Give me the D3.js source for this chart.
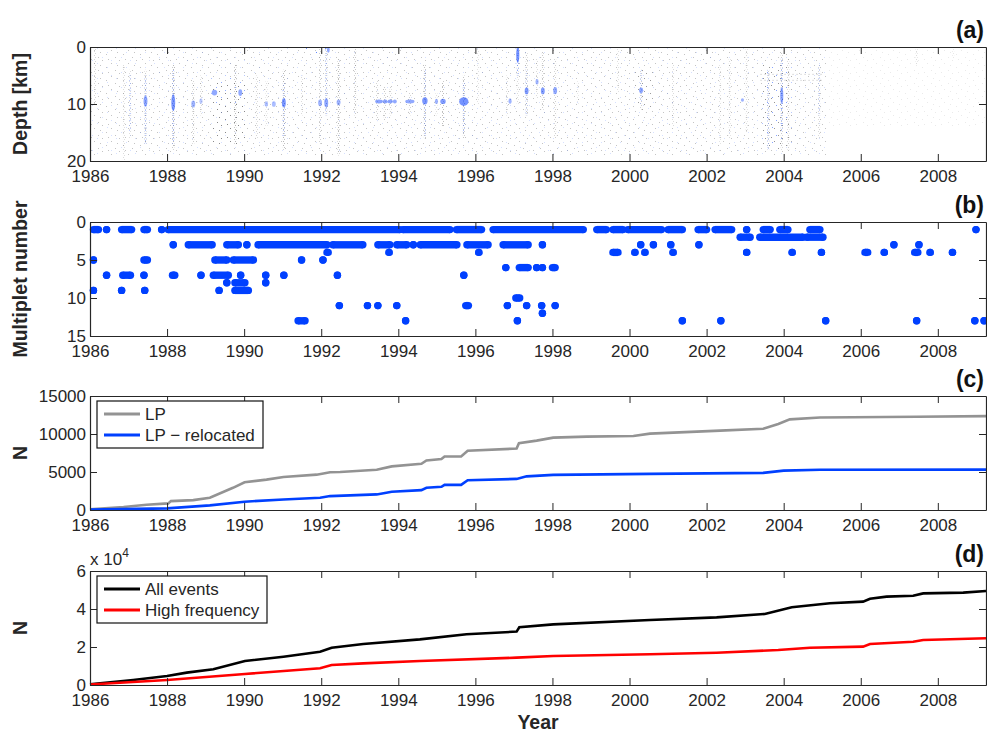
<!DOCTYPE html>
<html>
<head>
<meta charset="utf-8">
<script src="https://cdn.jsdelivr.net/npm/d3@7"></script>
<style>
  body { margin: 0; background: #fff; }
  svg { display: block; font-family: 'Liberation Sans', Arial, Helvetica, sans-serif; }
</style>
</head>
<body>
<div class="chart"></div>
<script>
// tick labels
const xTicks = [1986, 1988, 1990, 1992, 1994, 1996, 1998, 2000, 2002, 2004, 2006, 2008]
const depthTicks = [0, 10, 20]
const multTicks = [0, 5, 10, 15]
const lpTicks = [0, 5000, 10000, 15000]
const allTicks = [0, 20000, 40000, 60000]

// (a) depth of events, read as clouds / streaks / blobs
// [year from, year to, depth top, depth bottom, density]
const hazeGray = [[1986, 2005.1, 0, 19, 0.55], [2005.1, 2009.25, 0, 14, 0.2], [1989.15, 1990.05, 6, 17, 1],
  [2000.15, 2000.6, 4, 11, 0.7], [2003.45, 2004.2, 3, 18, 0.8]]
const hazeBlue = [[1986, 2005.1, 0, 19, 0.25], [1991.5, 1992.25, 0.2, 1.3, 0.9], [1989.15, 1990.05, 5, 10, 0.5],
  [2003.45, 2004.2, 3, 17, 0.6]]
// [year, depth top, depth bottom, alpha]
const streaksGray = [[1986.13, 0, 10, 0.35], [1986.88, 3, 20, 0.3], [1987.04, 4, 16, 0.3], [1987.44, 4, 17, 0.4],
  [1988.16, 3, 18, 0.6], [1988.68, 6, 17, 0.45], [1988.88, 5, 12, 0.3], [1989.77, 3, 17, 0.6], [1990.33, 5, 16, 0.35],
  [1990.58, 6, 14, 0.3], [1991.03, 4, 18, 0.6], [1991.5, 5, 12, 0.3], [1991.97, 0, 17, 0.4], [1992.13, 0, 12, 0.4],
  [1992.45, 2, 19, 0.6], [1992.88, 0, 12, 0.45], [1993.45, 6, 13, 0.4], [1993.65, 7, 13, 0.45], [1993.8, 7, 12, 0.4],
  [1994.3, 8, 12, 0.4], [1994.69, 3, 16, 0.5], [1994.99, 8, 12, 0.3], [1995.16, 6, 14, 0.55], [1995.7, 5, 16, 0.5],
  [1996.07, 0, 10, 0.25], [1996.82, 5, 12, 0.3], [1997.1, 0, 10, 0.3], [1997.33, 1, 12, 0.45], [1997.6, 2, 9, 0.3],
  [1997.75, 1, 11, 0.45], [1998.07, 2, 16, 0.4], [1998.66, 6, 10, 0.2], [1999.7, 0, 8, 0.25], [2000.3, 4, 11, 0.4],
  [2001.13, 3, 14, 0.3], [2002.35, 3, 17, 0.25], [2002.6, 2, 16, 0.3], [2003.04, 0, 15, 0.3], [2003.6, 4, 18, 0.4],
  [2003.95, 1, 18, 0.45], [2004.12, 2, 18, 0.4], [2004.92, 3, 16, 0.35], [2007.45, 0, 3, 0.3], [2008.4, 0, 2, 0.2]]
const streaksBlue = [[1987.04, 5, 15, 0.5], [1987.44, 5, 17, 0.6], [1988.16, 4, 17, 0.6], [1991.03, 6, 16, 0.5],
  [1992.13, 0, 12, 0.5], [1994.69, 4, 16, 0.5], [1995.7, 6, 15, 0.6], [1997.1, 0, 5, 0.8], [1997.33, 4, 12, 0.4],
  [2000.3, 4, 10, 0.4], [2003.6, 4, 18, 0.5], [2003.95, 2, 15, 0.6], [2004.92, 3, 12, 0.4]]
// [year from, year to, depth top, depth bottom, alpha]
const blobsBlue = [[1987.41, 1987.47, 8.5, 10.5, 0.8], [1988.13, 1988.19, 8.3, 11.2, 0.95], [1988.65, 1988.71, 9.4, 10.6, 0.7],
  [1988.86, 1988.9, 9, 10, 0.5], [1989.18, 1989.28, 7.5, 8.5, 0.8], [1989.87, 1989.93, 7.4, 8.6, 0.8],
  [1990.55, 1990.6, 9.5, 10.5, 0.6], [1990.74, 1990.8, 9.5, 10.5, 0.6], [1991.0, 1991.06, 9, 10.6, 0.95],
  [1991.94, 1992.0, 9.2, 10.4, 0.7], [1992.1, 1992.16, 9, 10.6, 0.8], [1992.17, 1992.2, 0, 1, 0.8],
  [1992.42, 1992.48, 9.2, 10.2, 0.7], [1993.42, 1993.58, 9.2, 9.9, 0.85], [1993.62, 1993.7, 9.2, 9.9, 0.85],
  [1993.74, 1993.84, 9.2, 9.9, 0.85], [1993.88, 1993.94, 9.2, 9.9, 0.8], [1994.2, 1994.4, 9.2, 9.9, 0.8],
  [1994.64, 1994.74, 8.8, 10.1, 0.95], [1994.97, 1995.01, 9.1, 10, 0.7], [1995.11, 1995.21, 9.1, 10, 0.9],
  [1995.6, 1995.8, 8.8, 10.3, 1], [1996.88, 1996.92, 9, 10, 0.7], [1997.08, 1997.12, 0, 2.8, 1],
  [1997.3, 1997.36, 7.1, 8.3, 0.9], [1997.58, 1997.62, 5.6, 6.6, 0.7], [1997.72, 1997.78, 7.1, 8.3, 0.9],
  [1998.04, 1998.1, 7, 8.3, 0.8], [2000.27, 2000.33, 7.1, 8.1, 0.8], [2002.91, 2002.95, 9, 9.6, 0.7],
  [2003.93, 2003.97, 7, 10, 0.8]]
// [year from, year to, depth]
const depthBands = [[2003.4, 2005.0, 4.8], [2003.4, 2005.0, 5.85]]

// (b) multiplet runs: [multiplet, year from, year to]
const multipletRuns = [
  [1, 1986.09, 1986.22], [1, 1986.43, 1986.43], [1, 1986.82, 1987.08], [1, 1987.40, 1987.49], [1, 1987.86, 1987.86],
  [1, 1988.03, 1994.04], [1, 1994.12, 1995.34], [1, 1995.51, 1996.16], [1, 1996.46, 1998.8], [1, 1999.15, 1999.4],
  [1, 1999.57, 1999.83], [1, 1999.96, 2000.83], [1, 2001.0, 2001.37], [1, 2001.78, 2002.0], [1, 2002.22, 2002.65],
  [1, 2003.04, 2003.04], [1, 2003.47, 2003.65], [1, 2003.9, 2004.11], [1, 2004.68, 2004.94], [1, 2008.99, 2008.99],
  [2, 2002.87, 2003.13], [2, 2003.38, 2004.5], [2, 2004.6, 2005.02],
  [3, 1988.16, 1988.16], [3, 1988.55, 1989.17], [3, 1989.55, 1989.85], [3, 1990.07, 1990.07], [3, 1990.36, 1992.15],
  [3, 1992.3, 1993.08], [3, 1993.47, 1993.78], [3, 1993.96, 1994.22], [3, 1994.39, 1994.39], [3, 1994.57, 1995.52],
  [3, 1995.78, 1996.33], [3, 1996.72, 1997.37], [3, 1997.74, 1997.74], [3, 2000.29, 2000.29], [3, 2000.62, 2000.62],
  [3, 2001.07, 2001.07], [3, 2001.8, 2001.8], [3, 2006.86, 2006.86], [3, 2007.51, 2007.51],
  [4, 1992.15, 1992.18], [4, 1993.76, 1993.76], [4, 1996.09, 1996.09], [4, 1999.57, 1999.7], [4, 2000.14, 2000.14],
  [4, 2000.4, 2000.4], [4, 2001.13, 2001.13], [4, 2003.04, 2003.04], [4, 2004.22, 2004.22], [4, 2004.98, 2004.98],
  [4, 2006.11, 2006.18], [4, 2006.61, 2006.61], [4, 2007.4, 2007.48], [4, 2007.8, 2007.8], [4, 2008.38, 2008.38],
  [5, 1986.09, 1986.09], [5, 1987.4, 1987.49], [5, 1989.24, 1989.55], [5, 1989.72, 1990.24], [5, 1991.49, 1991.49],
  [5, 1992.04, 1992.05],
  [6, 1996.79, 1996.79], [6, 1997.14, 1997.37], [6, 1997.59, 1997.59], [6, 1997.74, 1997.74], [6, 1998.0, 1998.07],
  [7, 1986.43, 1986.43], [7, 1986.85, 1987.05], [7, 1987.4, 1987.4], [7, 1988.14, 1988.2], [7, 1988.88, 1988.88],
  [7, 1989.2, 1989.59], [7, 1989.91, 1989.91], [7, 1990.56, 1990.56], [7, 1991.03, 1991.03], [7, 1992.42, 1992.42],
  [7, 1995.7, 1995.7],
  [8, 1989.55, 1989.55], [8, 1989.76, 1990.02], [8, 1990.56, 1990.56],
  [9, 1986.09, 1986.09], [9, 1986.82, 1986.82], [9, 1987.42, 1987.42], [9, 1989.35, 1989.35], [9, 1989.76, 1990.11],
  [10, 1997.05, 1997.15],
  [11, 1992.47, 1992.47], [11, 1993.2, 1993.2], [11, 1993.47, 1993.47], [11, 1993.96, 1993.96], [11, 1995.75, 1995.82],
  [11, 1996.83, 1996.83], [11, 1997.33, 1997.33], [11, 1997.72, 1997.72], [11, 1998.07, 1998.07],
  [12, 1997.74, 1997.74],
  [13, 1991.4, 1991.58], [13, 1994.19, 1994.19], [13, 1997.09, 1997.09], [13, 2001.37, 2001.37], [13, 2002.37, 2002.37],
  [13, 2005.09, 2005.09], [13, 2007.45, 2007.45], [13, 2008.96, 2008.96], [13, 2009.2, 2009.2]]

// (c) cumulative LP events [year, N]
const lpAll = [[1986.0, 100], [1986.87, 390], [1987.47, 700], [1988.03, 870], [1988.1, 1170], [1988.68, 1300],
  [1989.11, 1610], [1989.71, 2920], [1990.01, 3650], [1990.58, 4000], [1991.02, 4350], [1991.88, 4650],
  [1992.23, 4960], [1992.49, 5000], [1993.44, 5300], [1993.83, 5740], [1994.6, 6090], [1994.73, 6520],
  [1995.12, 6700], [1995.2, 7040], [1995.63, 7040], [1995.8, 7790], [1997.07, 8090], [1997.13, 8790],
  [1997.59, 9130], [1998.02, 9520], [1998.89, 9650], [2000.1, 9740], [2000.53, 10050], [2002.35, 10440],
  [2003.47, 10700], [2003.86, 11310], [2004.16, 11920], [2004.94, 12180], [2007.45, 12260], [2009.25, 12350]]
const lpRelocated = [[1986.0, 50], [1988.0, 220], [1989.11, 610], [1990.01, 1090], [1991.02, 1390], [1991.97, 1610],
  [1992.23, 1830], [1993.44, 2050], [1993.83, 2400], [1994.6, 2610], [1994.73, 2920], [1995.12, 3050],
  [1995.2, 3310], [1995.63, 3310], [1995.8, 3910], [1997.07, 4090], [1997.33, 4430], [1998.02, 4620],
  [2000.53, 4750], [2003.47, 4880], [2004.0, 5180], [2004.94, 5300], [2009.25, 5310]]

// (d) cumulative events [year, N]
const allEvents = [[1986.0, 400], [1987.12, 2600], [1988.0, 4700], [1988.51, 6500], [1989.2, 8300], [1990.02, 12600],
  [1991.02, 14900], [1991.97, 17500], [1992.27, 19600], [1993.09, 21600], [1994.56, 24000], [1995.77, 26700],
  [1997.07, 28100], [1997.14, 30400], [1998.02, 31900], [2000.53, 34200], [2002.26, 35600], [2003.51, 37400],
  [2004.21, 40900], [2005.2, 43000], [2006.06, 43900], [2006.24, 45400], [2006.67, 46500], [2007.36, 47000],
  [2007.62, 48200], [2008.66, 48600], [2009.25, 49500]]
const highFreq = [[1986.0, 300], [1988.0, 2600], [1990.02, 5800], [1991.97, 8800], [1992.27, 10500], [1993.09, 11400],
  [1994.56, 12600], [1997.07, 14400], [1998.02, 15300], [2000.53, 16200], [2002.26, 17000], [2003.86, 18400],
  [2004.68, 19600], [2006.06, 20200], [2006.24, 21600], [2007.36, 22800], [2007.62, 23700], [2009.25, 24600]]

const ink = '#262626'
const blue = '#0040ff'
const gray = '#939393'
const font = "'Liberation Sans', Arial, Helvetica, sans-serif"

const W = 987
const H = 732
const panelTop = [47, 222, 396, 571]
const panelH = 114

const svg = d3.select('.chart').append('svg').attr('width', W).attr('height', H)
const x = d3.scaleLinear().domain([1986, 2009.25]).range([90, 986])

const defs = svg.append('defs')
// sparse dot tiles, a few dots per tile so the stipple does not read as a grid
const addPattern = (id, color, w, h, dots) => {
  const p = defs.append('pattern').attr('id', id).attr('patternUnits', 'userSpaceOnUse').attr('width', w).attr('height', h)
  dots.forEach(e => {
    p.append('rect').attr('x', e[0]).attr('y', e[1]).attr('width', 1).attr('height', 1).attr('fill', color)
  })
}
addPattern('hazeGray', '#7a7a7a', 17, 13, [[0, 0], [9, 3], [4, 7], [13, 10], [6, 12], [15, 5]])
addPattern('hazeBlue', '#3366ff', 19, 15, [[2, 1], [12, 5], [7, 10], [16, 13]])
addPattern('streakGray', '#6a6a6a', 2, 4, [[0, 0], [1, 2]])
addPattern('streakBlue', '#2255ff', 2, 5, [[0, 1], [1, 3]])

defs.append('clipPath').attr('id', 'plotClip').append('rect')
  .attr('x', 90).attr('y', 0).attr('width', 896).attr('height', panelH)

const panel = (i) => svg.append('g').attr('transform', `translate(0,${panelTop[i]})`)

const drawAxes = (g, y, yTicks, fmt) => {
  g.append('g').attr('transform', `translate(0,${panelH})`)
    .call(d3.axisBottom(x).tickValues(xTicks).tickFormat(d3.format('d')).tickSizeInner(-7).tickSizeOuter(0).tickPadding(9))
  g.append('g')
    .call(d3.axisTop(x).tickValues(xTicks).tickFormat('').tickSizeInner(-7).tickSizeOuter(0))
  g.append('g').attr('transform', 'translate(90,0)')
    .call(d3.axisLeft(y).tickValues(yTicks).tickFormat(fmt).tickSizeInner(-7).tickSizeOuter(0).tickPadding(4))
  g.append('g').attr('transform', 'translate(986,0)')
    .call(d3.axisRight(y).tickValues(yTicks).tickFormat('').tickSizeInner(-7).tickSizeOuter(0))
  g.selectAll('.domain').attr('stroke', ink).attr('stroke-width', 1.2)
  g.selectAll('.tick line').attr('stroke', ink)
  g.selectAll('.tick text').attr('fill', ink).style('font-size', '17px').style('font-family', font)
}

const yLabel = (g, txt) => {
  g.append('text')
    .attr('transform', `translate(27,${panelH / 2}) rotate(-90)`)
    .attr('text-anchor', 'middle')
    .attr('fill', ink)
    .style('font-size', '19.5px').style('font-weight', 'bold').style('font-family', font)
    .text(txt)
}

const tag = (g, txt) => {
  g.append('text')
    .attr('x', 984).attr('y', -9)
    .attr('text-anchor', 'end')
    .attr('fill', '#111')
    .style('font-size', '23px').style('font-weight', 'bold').style('font-family', font)
    .text(txt)
}

const legend = (g, items, w) => {
  const lg = g.append('g').attr('transform', 'translate(97,5)')
  lg.append('rect').attr('width', w).attr('height', 47).attr('fill', '#fff').attr('stroke', '#111').attr('stroke-width', 1.2)
  items.forEach((e, i) => {
    lg.append('line').attr('x1', 7).attr('x2', 43).attr('y1', 13 + i * 21).attr('y2', 13 + i * 21)
      .attr('stroke', e[1]).attr('stroke-width', 3)
    lg.append('text').attr('x', 48).attr('y', 19 + i * 21).attr('fill', ink)
      .style('font-size', '17px').style('font-family', font).text(e[0])
  })
}

// first - depth
const ga = panel(0)
const ya = d3.scaleLinear().domain([0, 20]).range([0, panelH])
const la = ga.append('g').attr('clip-path', 'url(#plotClip)')
la.selectAll('rect.hg').data(hazeGray).join('rect').attr('class', 'hg')
  .attr('x', d => x(d[0])).attr('width', d => x(d[1]) - x(d[0]))
  .attr('y', d => ya(d[2])).attr('height', d => ya(d[3]) - ya(d[2]))
  .attr('fill', 'url(#hazeGray)').attr('opacity', d => d[4] * 0.8)
la.selectAll('rect.hb').data(hazeBlue).join('rect').attr('class', 'hb')
  .attr('x', d => x(d[0])).attr('width', d => x(d[1]) - x(d[0]))
  .attr('y', d => ya(d[2])).attr('height', d => ya(d[3]) - ya(d[2]))
  .attr('fill', 'url(#hazeBlue)').attr('opacity', d => d[4] * 0.8)
la.selectAll('rect.sg').data(streaksGray).join('rect').attr('class', 'sg')
  .attr('x', d => x(d[0]) - 1).attr('width', 2)
  .attr('y', d => ya(d[1])).attr('height', d => ya(d[2]) - ya(d[1]))
  .attr('fill', 'url(#streakGray)').attr('opacity', d => d[3] * 0.8)
la.selectAll('rect.sb').data(streaksBlue).join('rect').attr('class', 'sb')
  .attr('x', d => x(d[0]) - 1).attr('width', 2)
  .attr('y', d => ya(d[1])).attr('height', d => ya(d[2]) - ya(d[1]))
  .attr('fill', 'url(#streakBlue)').attr('opacity', d => d[3] * 0.6)
la.selectAll('line.band').data(depthBands).join('line').attr('class', 'band')
  .attr('x1', d => x(d[0])).attr('x2', d => x(d[1]))
  .attr('y1', d => ya(d[2])).attr('y2', d => ya(d[2]))
  .attr('stroke', '#888').attr('stroke-width', 1).attr('stroke-dasharray', '1,3').attr('opacity', 0.5)
la.selectAll('ellipse.bb').data(blobsBlue).join('ellipse').attr('class', 'bb')
  .attr('cx', d => x((d[0] + d[1]) / 2)).attr('rx', d => (x(d[1]) - x(d[0])) / 2 + 0.8)
  .attr('cy', d => ya((d[2] + d[3]) / 2)).attr('ry', d => (ya(d[3]) - ya(d[2])) / 2)
  .attr('fill', '#1a4cff').attr('opacity', d => d[4] * 0.6)
drawAxes(ga, ya, depthTicks, d3.format('d'))
yLabel(ga, 'Depth [km]')
tag(ga, '(a)')

// second - multiplets
const gb = panel(1)
const yb = d3.scaleLinear().domain([0, 15]).range([0, panelH])
gb.selectAll('line.run').data(multipletRuns).join('line').attr('class', 'run')
  .attr('x1', d => x(d[1])).attr('x2', d => x(d[2]))
  .attr('y1', d => yb(d[0])).attr('y2', d => yb(d[0]))
  .attr('stroke', blue).attr('stroke-width', 7.4)
gb.selectAll('circle.s').data(multipletRuns).join('circle').attr('class', 's')
  .attr('cx', d => x(d[1])).attr('cy', d => yb(d[0])).attr('r', 3.7).attr('fill', blue)
gb.selectAll('circle.e').data(multipletRuns).join('circle').attr('class', 'e')
  .attr('cx', d => x(d[2])).attr('cy', d => yb(d[0])).attr('r', 3.7).attr('fill', blue)
drawAxes(gb, yb, multTicks, d3.format('d'))
yLabel(gb, 'Multiplet number')
tag(gb, '(b)')

// third - LP
const gc = panel(2)
const yc = d3.scaleLinear().domain([0, 15000]).range([panelH, 0])
const lineC = d3.line().x(d => x(d[0])).y(d => yc(d[1]))
gc.append('path').datum(lpAll).attr('d', lineC).attr('fill', 'none').attr('stroke', gray).attr('stroke-width', 2.6)
gc.append('path').datum(lpRelocated).attr('d', lineC).attr('fill', 'none').attr('stroke', blue).attr('stroke-width', 2.6)
drawAxes(gc, yc, lpTicks, d3.format('d'))
legend(gc, [['LP', gray], ['LP \u2212 relocated', blue]], 166)
yLabel(gc, 'N')
tag(gc, '(c)')

// fourth - all events
const gd = panel(3)
const yd = d3.scaleLinear().domain([0, 60000]).range([panelH, 0])
const lineD = d3.line().x(d => x(d[0])).y(d => yd(d[1]))
gd.append('path').datum(allEvents).attr('d', lineD).attr('fill', 'none').attr('stroke', '#000').attr('stroke-width', 2.6)
gd.append('path').datum(highFreq).attr('d', lineD).attr('fill', 'none').attr('stroke', '#ff0000').attr('stroke-width', 2.6)
drawAxes(gd, yd, allTicks, d => d / 10000)
legend(gd, [['All events', '#000'], ['High frequency', '#ff0000']], 170)
yLabel(gd, 'N')
tag(gd, '(d)')

const mult = gd.append('text').attr('x', 90).attr('y', -6).attr('fill', ink)
  .style('font-size', '17px').style('font-family', font)
mult.append('tspan').text('x 10')
mult.append('tspan').attr('dy', -8).style('font-size', '12px').text('4')

svg.append('text')
  .attr('x', 538).attr('y', 729)
  .attr('text-anchor', 'middle').attr('fill', ink)
  .style('font-size', '19.5px').style('font-weight', 'bold').style('font-family', font)
  .text('Year')
</script>
</body>
</html>
